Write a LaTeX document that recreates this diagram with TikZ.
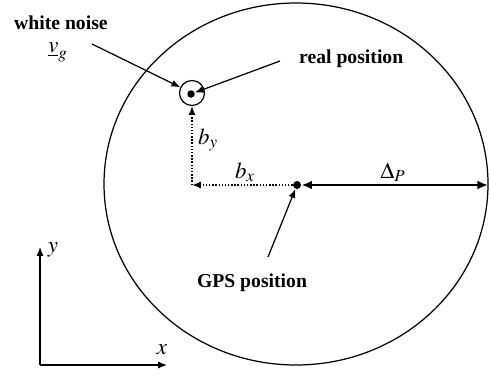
\documentclass[tikz,border=0pt]{standalone}
\usepackage{mathptmx}
\usepackage{fontspec}
\setmainfont{Liberation Serif}
\usetikzlibrary{arrows.meta, positioning, calc}

\begin{document}
\begin{tikzpicture}[x=0.02cm,y=-0.02cm,
  lbl/.style={font=\bfseries\fontsize{11.2}{13}\selectfont},
  sym/.style={font=\fontsize{13}{15}\selectfont},
  ptr/.style={-{Latex[length=5pt,width=4pt]},line width=0.7pt},
  bias/.style={densely dotted,-{Latex[length=5pt,width=4pt]},line width=0.8pt}]
  \useasboundingbox (0,0) rectangle (489,376);
  \draw[line width=0.7pt] (296,184) ellipse [x radius=192, y radius=181];
  \node[circle,draw,line width=0.7pt,minimum size=0.5cm,inner sep=0] (real) at (192,93) {};
  \node[circle,fill,inner sep=0,minimum size=0.15cm] (rdot) at (191,94) {};
  \node[circle,fill,inner sep=0,minimum size=0.16cm] (gps) at (297,185) {};
  \coordinate (corner) at (192,185);
  \coordinate (edge) at (488,185);
  \node[lbl,anchor=west] (noisetxt) at (8,23) {white noise};
  \node[sym] (vg) at (58,52) {$\underline{v}_g$};
  \node[lbl,anchor=west] (realtxt) at (293,59) {real position};
  \node[lbl] (gpstxt) at (252,283) {GPS position};
  \coordinate (noisefrom) at (92,44);
  \coordinate (realfrom) at (280,61);
  \coordinate (gpsfrom) at (268,257);
  \draw[ptr] (noisefrom) -- (real);
  \draw[ptr] (realfrom) -- (rdot);
  \draw[ptr] (gpsfrom) -- (gps);
  \draw[bias] (gps) -- (corner);
  \draw[bias] (corner) -- (real.south);
  \draw[{Latex[length=6pt,width=5pt]}-{Latex[length=6pt,width=5pt]},line width=1.2pt] (gps) -- (edge);
  \node[sym] (by) at (208,140) {$b_y$};
  \node[sym] (bx) at (245,172) {$b_x$};
  \node[sym] (dp) at (393,172) {$\Delta_P$};
  \coordinate (o) at (40,365);
  \coordinate (xend) at (167,365);
  \coordinate (yend) at (40,247);
  \draw[ptr] (o) -- (xend);
  \draw[ptr] (o) -- (yend);
  \node[sym] (xl) at (162,350) {$x$};
  \node[sym] (yl) at (53,250) {$y$};
\end{tikzpicture}
\end{document}
